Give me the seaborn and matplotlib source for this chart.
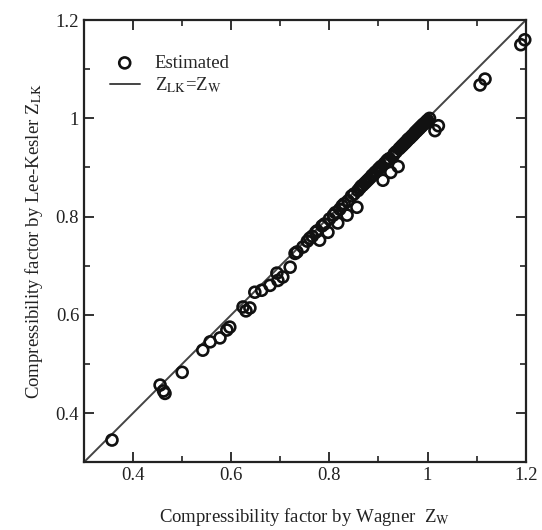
#!/usr/bin/env python3
"""Lee-Kesler vs Wagner compressibility factor parity plot."""

import matplotlib

matplotlib.use("Agg")

import matplotlib.pyplot as plt
import pandas as pd
import seaborn as sns
from matplotlib.ticker import MultipleLocator

# Z by Wagner (x) and Z by Lee-Kesler (y)
z_wagner = [
    0.357, 0.455, 0.462, 0.465, 0.500, 0.542, 0.557, 0.577, 0.591, 0.597,
    0.624, 0.630, 0.638, 0.648, 0.662, 0.679, 0.693, 0.695, 0.705, 0.720,
    0.730, 0.734, 0.746, 0.755, 0.765, 0.772, 0.780, 0.790, 0.797, 0.800,
    0.808, 0.817, 0.821, 0.826, 0.836, 0.838, 0.845, 0.856, 0.858, 0.865,
    0.872, 0.880, 0.887, 0.893, 0.900, 0.905, 0.909, 0.912, 0.918, 0.925,
    0.929, 0.932, 0.940, 0.945, 0.950, 0.955, 0.960, 0.965, 0.970, 0.975,
    0.980, 0.985, 0.990, 0.995, 1.000, 1.004, 1.015, 1.022, 1.107, 1.117,
    1.190, 1.198,
    # tightly packed run along the parity line
    0.760, 0.775, 0.785, 0.812, 0.830, 0.850, 0.862, 0.868, 0.876, 0.884,
    0.890, 0.896, 0.903, 0.915, 0.922, 0.936, 0.942, 0.948, 0.953, 0.958,
    0.963, 0.968, 0.973, 0.978, 0.983, 0.988, 0.993, 0.998,
]
z_lee_kesler = [
    0.345, 0.457, 0.445, 0.440, 0.483, 0.528, 0.545, 0.553, 0.569, 0.575,
    0.616, 0.608, 0.614, 0.646, 0.650, 0.660, 0.685, 0.670, 0.677, 0.697,
    0.725, 0.728, 0.738, 0.750, 0.760, 0.768, 0.752, 0.785, 0.768, 0.795,
    0.803, 0.787, 0.815, 0.822, 0.803, 0.832, 0.842, 0.819, 0.853, 0.862,
    0.868, 0.876, 0.884, 0.890, 0.897, 0.902, 0.874, 0.908, 0.915, 0.890,
    0.922, 0.928, 0.902, 0.941, 0.946, 0.951, 0.957, 0.961, 0.966, 0.972,
    0.977, 0.982, 0.987, 0.991, 0.996, 1.000, 0.975, 0.985, 1.068, 1.080,
    1.150, 1.160,
    0.756, 0.771, 0.781, 0.808, 0.826, 0.846, 0.858, 0.864, 0.872, 0.880,
    0.886, 0.892, 0.899, 0.911, 0.918, 0.932, 0.938, 0.944, 0.949, 0.954,
    0.959, 0.964, 0.969, 0.974, 0.979, 0.984, 0.989, 0.994,
]
parity_line = [0.3, 1.2]

sns.set_theme(style="ticks")
plt.rcParams["font.family"] = ["Liberation Serif", "DejaVu Serif"]
plt.rcParams["mathtext.fontset"] = "stix"

df = pd.DataFrame({"zw": z_wagner, "zlk": z_lee_kesler})
line_df = pd.DataFrame({"x": parity_line, "y": parity_line})

fig = plt.figure(figsize=(5.42, 5.30), dpi=100)
ax = fig.add_axes([0.155, 0.128, 0.815, 0.834])

sns.scatterplot(
    data=df, x="zw", y="zlk", ax=ax, marker="o", s=62,
    facecolor="none", edgecolor="#111111", linewidth=1.9,
    label="Estimated", zorder=3, clip_on=False,
)
sns.lineplot(
    data=line_df, x="x", y="y", ax=ax, color="#444444", linewidth=1.4,
    label=r"Z$_{\rm LK}$=Z$_{\rm W}$", zorder=2,
)

ax.set_xlim(0.3, 1.2)
ax.set_ylim(0.3, 1.2)
ax.xaxis.set_minor_locator(MultipleLocator(0.1))
ax.yaxis.set_minor_locator(MultipleLocator(0.1))
ax.set_xticks([0.4, 0.6, 0.8, 1.0, 1.2])
ax.set_xticklabels(["0.4", "0.6", "0.8", "1", "1.2"])
ax.set_yticks([0.4, 0.6, 0.8, 1.0, 1.2])
ax.set_yticklabels(["0.4", "0.6", "0.8", "1", "1.2"])
ax.tick_params(which="both", direction="in", top=True, right=True,
               labelsize=13.5, colors="#222222")
ax.tick_params(which="major", length=7, width=1.3)
ax.tick_params(which="minor", length=4, width=1.2)
for spine in ax.spines.values():
    spine.set_linewidth(1.6)
    spine.set_color("#222222")

ax.set_xlabel(r"Compressibility factor by Wagner  Z$_{\rm W}$",
              fontsize=13.5, labelpad=16, color="#222222")
ax.set_ylabel(r"Compressibility factor by Lee-Kesler Z$_{\rm LK}$",
              fontsize=13.5, labelpad=8, color="#222222")

ax.legend(loc="upper left", frameon=False, fontsize=13.5,
          bbox_to_anchor=(0.02, 0.96), handlelength=1.6,
          handletextpad=0.8, labelspacing=0.2)

fig.savefig("out.png", dpi=100)
plt.close(fig)
